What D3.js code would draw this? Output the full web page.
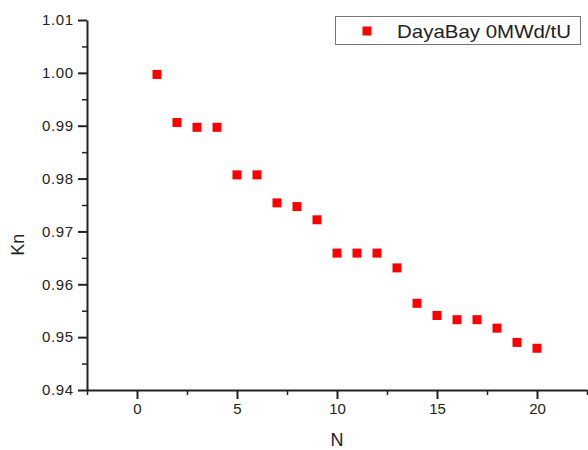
<!DOCTYPE html>
<html>
<head>
<meta charset="utf-8">
<script src="https://cdn.jsdelivr.net/npm/d3@7"></script>
<style>
  body { margin: 0; background: #fff; }
  text { font-family: "Liberation Sans", Arial, sans-serif; fill: #222; }
</style>
</head>
<body>
<script>
// data
const nValues = [1, 2, 3, 4, 5, 6, 7, 8, 9, 10, 11, 12, 13, 14, 15, 16, 17, 18, 19, 20];
const knValues = [0.9997, 0.9906, 0.9897, 0.9897, 0.9807, 0.9807, 0.9754, 0.9747, 0.9722, 0.9659,
                  0.9659, 0.9659, 0.9631, 0.9564, 0.9541, 0.9533, 0.9533, 0.9517, 0.9490, 0.9479];
const seriesName = "DayaBay 0MWd/tU";
const xTicks = [0, 5, 10, 15, 20];
const yTicks = [0.94, 0.95, 0.96, 0.97, 0.98, 0.99, 1.00, 1.01];

const width = 588, height = 450;
const margin = {top: 20, right: 1, bottom: 60, left: 87};

const svg = d3.select("body").append("svg")
    .attr("width", width)
    .attr("height", height);

const x = d3.scaleLinear()
    .domain([-2.5, 22.5])
    .range([margin.left, width - margin.right]);

const y = d3.scaleLinear()
    .domain([0.94, 1.01])
    .range([height - margin.bottom, margin.top]);

const axisColor = "#222";

// minor ticks
svg.append("g")
    .attr("transform", "translate(0," + y(0.94) + ")")
    .call(d3.axisBottom(x).tickValues(d3.range(-2.5, 22.6, 5)).tickSize(5).tickFormat(""))
    .call(g => g.select(".domain").remove())
    .call(g => g.selectAll("line").attr("stroke", axisColor).attr("stroke-width", 1.5));

svg.append("g")
    .attr("transform", "translate(" + x(-2.5) + ",0)")
    .call(d3.axisLeft(y).tickValues(d3.range(0.945, 1.01, 0.01)).tickSize(5).tickFormat(""))
    .call(g => g.select(".domain").remove())
    .call(g => g.selectAll("line").attr("stroke", axisColor).attr("stroke-width", 1.5));

// major axes
svg.append("g")
    .attr("transform", "translate(0," + y(0.94) + ")")
    .call(d3.axisBottom(x).tickValues(xTicks).tickSize(9).tickSizeOuter(0).tickPadding(4))
    .call(g => g.select(".domain").attr("stroke", axisColor).attr("stroke-width", 2))
    .call(g => g.selectAll("line").attr("stroke", axisColor).attr("stroke-width", 2))
    .call(g => g.selectAll("text").style("font-size", "15px").attr("fill", "#222"));

svg.append("g")
    .attr("transform", "translate(" + x(-2.5) + ",0)")
    .call(d3.axisLeft(y).tickValues(yTicks).tickSize(9).tickSizeOuter(0).tickPadding(5)
        .tickFormat(d3.format(".2f")))
    .call(g => g.select(".domain").attr("stroke", axisColor).attr("stroke-width", 2))
    .call(g => g.selectAll("line").attr("stroke", axisColor).attr("stroke-width", 2))
    .call(g => g.selectAll("text").style("font-size", "15px").attr("fill", "#222")
        .attr("textLength", 31).attr("lengthAdjust", "spacing"));

// axis titles
svg.append("text")
    .attr("x", x(10))
    .attr("y", 446)
    .attr("text-anchor", "middle")
    .style("font-size", "18px")
    .text("N");

svg.append("text")
    .attr("transform", "translate(24," + y(0.9675) + ") rotate(-90)")
    .attr("text-anchor", "middle")
    .style("font-size", "18px")
    .text("Kn");

// points
const size = 9;
svg.append("g")
    .selectAll("rect")
    .data(nValues)
    .join("rect")
    .attr("x", (d) => x(d) - size / 2)
    .attr("y", (d, i) => y(knValues[i]) - size / 2)
    .attr("width", size)
    .attr("height", size)
    .attr("fill", "#f00");

// legend
const legend = svg.append("g");
legend.append("rect")
    .attr("x", 335.5).attr("y", 16.5)
    .attr("width", 245).attr("height", 28)
    .attr("fill", "#fff")
    .attr("stroke", "#777")
    .attr("stroke-width", 1);
legend.append("rect")
    .attr("x", 367 - size / 2).attr("y", 31 - size / 2)
    .attr("width", size).attr("height", size)
    .attr("fill", "#f00");
legend.append("text")
    .attr("x", 397).attr("y", 37.5)
    .style("font-size", "19px")
    .attr("textLength", 174)
    .attr("lengthAdjust", "spacingAndGlyphs")
    .text(seriesName);
</script>
</body>
</html>
